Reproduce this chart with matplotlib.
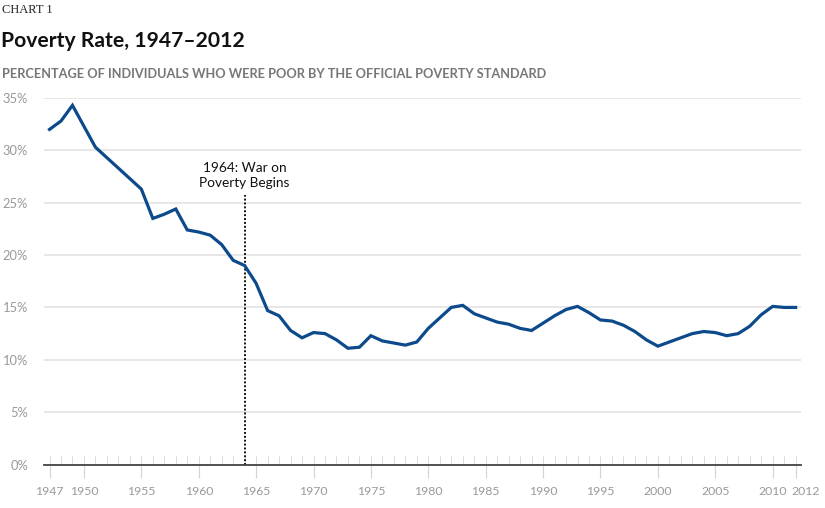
import matplotlib
matplotlib.use("Agg")
import matplotlib.pyplot as plt
import matplotlib.transforms as mtransforms
from matplotlib.ticker import FixedLocator, FuncFormatter

# Poverty rate (%) by year
years = [1947, 1948, 1949, 1951, 1952, 1953, 1954, 1955, 1956, 1957, 1958,
         1959, 1960, 1961, 1962, 1963, 1964, 1965, 1966, 1967, 1968, 1969,
         1970, 1971, 1972, 1973, 1974, 1975, 1976, 1977, 1978, 1979, 1980,
         1981, 1982, 1983, 1984, 1985, 1986, 1987, 1988, 1989, 1990, 1991,
         1992, 1993, 1994, 1995, 1996, 1997, 1998, 1999, 2000, 2001, 2002,
         2003, 2004, 2005, 2006, 2007, 2008, 2009, 2010, 2011, 2012]
rate = [32.0, 32.8, 34.3, 30.3, 29.3, 28.3, 27.3, 26.3, 23.5, 23.9, 24.4,
        22.4, 22.2, 21.9, 21.0, 19.5, 19.0, 17.3, 14.7, 14.2, 12.8, 12.1,
        12.6, 12.5, 11.9, 11.1, 11.2, 12.3, 11.8, 11.6, 11.4, 11.7, 13.0,
        14.0, 15.0, 15.2, 14.4, 14.0, 13.6, 13.4, 13.0, 12.8, 13.5, 14.2,
        14.8, 15.1, 14.5, 13.8, 13.7, 13.3, 12.7, 11.9, 11.3, 11.7, 12.1,
        12.5, 12.7, 12.6, 12.3, 12.5, 13.2, 14.3, 15.1, 15.0, 15.0]

year_labels = [1947, 1950, 1955, 1960, 1965, 1970, 1975, 1980, 1985, 1990,
               1995, 2000, 2005, 2010, 2012]
pct_ticks = [0, 5, 10, 15, 20, 25, 30, 35]
event_year = 1964
event_text = ["1964: War on", "Poverty Begins"]

W, H = 825, 508
fig = plt.figure(figsize=(W / 100, H / 100), dpi=100)
ax = fig.add_axes([44 / W, (H - 464.5) / H, (801 - 44) / W, (464.5 - 98) / H])

ax.plot(years, rate, color="#0d4a8c", lw=2.3, solid_joinstyle="miter", zorder=4)

ax.set_xlim(1946.52, 2012.47)
ax.set_ylim(0, 35)

# dotted event marker and label
ax.plot([event_year, event_year], [0, 25.7], color="#111111", lw=1.4,
        linestyle=(0, (1, 1)), zorder=3)
ax.text(event_year, 27.95, event_text[0], ha="center", va="baseline",
        fontsize=9.8, family="Lato", color="#111111")
ax.text(event_year, 26.5, event_text[1], ha="center", va="baseline",
        fontsize=9.8, family="Lato", color="#111111")

# grid + spines
for s in ["top", "right", "left"]:
    ax.spines[s].set_visible(False)
ax.spines["bottom"].set_color("#444444")
ax.spines["bottom"].set_linewidth(1.3)
ax.spines["bottom"].set_zorder(5)
ax.yaxis.set_major_locator(FixedLocator(pct_ticks))
ax.yaxis.set_major_formatter(FuncFormatter(lambda v, p: "{:d}%".format(int(v))))
ax.grid(axis="y", color="#e3e3e3", lw=1.2, zorder=0)
ax.tick_params(axis="y", length=0, pad=11.5, labelsize=9.3, labelcolor="#999999")

ax.xaxis.remove_overlapping_locs = False
ax.xaxis.set_major_locator(FixedLocator(year_labels))
ax.xaxis.set_minor_locator(FixedLocator(list(range(1947, 2013))))
ax.tick_params(axis="x", which="major", direction="out", length=9.5, width=0.8,
               color="#d3d3d3", pad=6, labelsize=8.8, labelcolor="#999999")
ax.tick_params(axis="x", which="minor", direction="in", length=6.5, width=0.7,
               color="#dadada")
for lab in ax.get_xticklabels() + ax.get_yticklabels():
    lab.set_family("Lato")

# last year label sits a little to the right, as in the original
last = ax.get_xticklabels()[-1]
last.set_transform(last.get_transform() +
                   mtransforms.ScaledTranslation(10 / 100, 0, fig.dpi_scale_trans))

# headings
fig.text(2 / W, 1 - 13 / H, "CHART 1", family="Liberation Serif", fontsize=9,
         color="#222222", va="baseline")
fig.text(1 / W, 1 - 47 / H, "Poverty Rate, 1947\u20132012", family="Lato",
         fontweight="bold", fontsize=15.2, color="#111111", va="baseline")
fig.text(2 / W, 1 - 78 / H,
         "PERCENTAGE OF INDIVIDUALS WHO WERE POOR BY THE OFFICIAL POVERTY STANDARD",
         family="Lato", fontweight="bold", fontsize=9.2, color="#777777",
         va="baseline")

fig.savefig("out.png", dpi=100)
